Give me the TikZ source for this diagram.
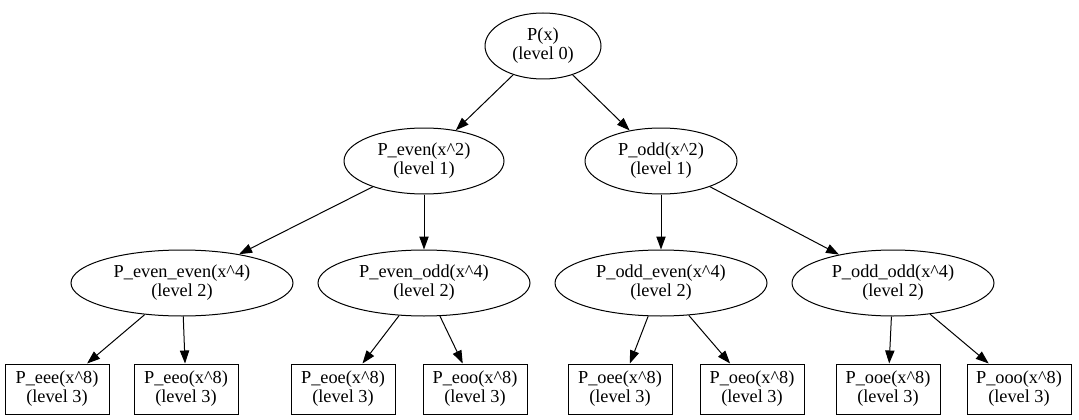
\documentclass[tikz,border=0pt]{standalone}
\usepackage{fontspec}
\setmainfont{Liberation Serif}
\usetikzlibrary{shapes.geometric,arrows.meta}
\tikzset{
  poly/.style={draw, ellipse, inner sep=0pt, minimum height=66pt, align=center,
    font=\fontsize{18.3}{19}\selectfont, line width=1pt},
  leaf/.style={draw, rectangle, inner sep=0pt, minimum width=104pt, minimum height=50pt,
    align=center, font=\fontsize{18.3}{19}\selectfont, line width=1pt},
  split/.style={line width=1pt, -{Triangle[length=13pt,width=9.3pt]}}
}
\begin{document}
\begin{tikzpicture}[x=1pt, y=-1pt]
  \useasboundingbox (0,0) rectangle (1079,420);
  \node[poly, minimum width=116pt] (p) at (543, 46) {P(x)\\(level 0)};
  \node[poly, minimum width=160pt] (pe) at (424, 161) {P\_even(x\^{}2)\\(level 1)};
  \node[poly, minimum width=152pt] (po) at (661, 161) {P\_odd(x\^{}2)\\(level 1)};
  \node[poly, minimum width=222pt] (pee) at (182, 283) {P\_even\_even(x\^{}4)\\(level 2)};
  \node[poly, minimum width=212pt] (peo) at (424, 283) {P\_even\_odd(x\^{}4)\\(level 2)};
  \node[poly, minimum width=212pt] (poe) at (661, 283) {P\_odd\_even(x\^{}4)\\(level 2)};
  \node[poly, minimum width=202pt] (poo) at (893, 283) {P\_odd\_odd(x\^{}4)\\(level 2)};
  \node[leaf] (peee) at (57, 389) {P\_eee(x\^{}8)\\(level 3)};
  \node[leaf] (peeo) at (186, 389) {P\_eeo(x\^{}8)\\(level 3)};
  \node[leaf] (peoe) at (343, 389) {P\_eoe(x\^{}8)\\(level 3)};
  \node[leaf] (peoo) at (475, 389) {P\_eoo(x\^{}8)\\(level 3)};
  \node[leaf] (poee) at (620, 389) {P\_oee(x\^{}8)\\(level 3)};
  \node[leaf] (poeo) at (752, 389) {P\_oeo(x\^{}8)\\(level 3)};
  \node[leaf] (pooe) at (888, 389) {P\_ooe(x\^{}8)\\(level 3)};
  \node[leaf] (pooo) at (1019, 389) {P\_ooo(x\^{}8)\\(level 3)};
  \draw[split] (p) -- (pe);
  \draw[split] (p) -- (po);
  \draw[split] (pe) -- (pee);
  \draw[split] (pe) -- (peo);
  \draw[split] (po) -- (poe);
  \draw[split] (po) -- (poo);
  \draw[split] (pee) -- (peee);
  \draw[split] (pee) -- (peeo);
  \draw[split] (peo) -- (peoe);
  \draw[split] (peo) -- (peoo);
  \draw[split] (poe) -- (poee);
  \draw[split] (poe) -- (poeo);
  \draw[split] (poo) -- (pooe);
  \draw[split] (poo) -- (pooo);
\end{tikzpicture}
\end{document}
